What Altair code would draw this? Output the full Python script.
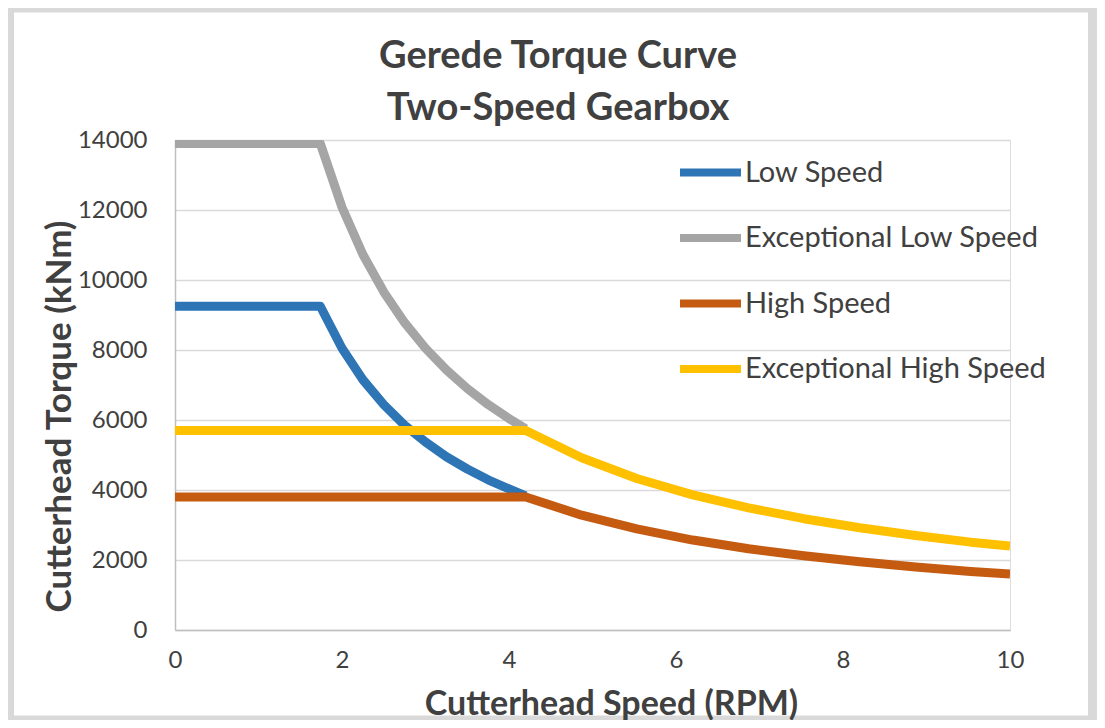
import altair as alt
import pandas as pd

TITLE_LINES = ["Gerede Torque Curve", "Two-Speed Gearbox"]
X_TITLE = "Cutterhead Speed (RPM)"
Y_TITLE = "Cutterhead Torque (kNm)"
SERIES = ["Low Speed", "Exceptional Low Speed", "High Speed", "Exceptional High Speed"]
COLORS = ["#2e75b6", "#a5a5a5", "#c55a11", "#ffc000"]
X_TICKS = [0, 2, 4, 6, 8, 10]
Y_TICKS = [0, 2000, 4000, 6000, 8000, 10000, 12000, 14000]

low_x = [0, 1.74, 2.0, 2.25, 2.5, 2.75, 3.0, 3.25, 3.5, 3.75, 4.0, 4.2]
low_y = [9250, 9250, 8050, 7150, 6440, 5850, 5370, 4950, 4600, 4290, 4030, 3830]
exlow_x = [0, 1.74, 2.0, 2.25, 2.5, 2.75, 3.0, 3.25, 3.5, 3.75, 4.0, 4.2]
exlow_y = [13900, 13900, 12080, 10730, 9660, 8780, 8050, 7430, 6900, 6440, 6040, 5750]
high_x = [0, 4.2, 4.87, 5.53, 6.2, 6.87, 7.53, 8.2, 8.87, 9.53, 10]
high_y = [3800, 3800, 3280, 2890, 2570, 2320, 2120, 1950, 1800, 1670, 1600]
exhigh_x = [0, 4.2, 4.87, 5.53, 6.2, 6.87, 7.53, 8.2, 8.87, 9.53, 10]
exhigh_y = [5700, 5700, 4920, 4330, 3860, 3490, 3180, 2920, 2700, 2510, 2400]

rows = []
for name, xs, ys in zip(SERIES, [low_x, exlow_x, high_x, exhigh_x], [low_y, exlow_y, high_y, exhigh_y]):
    for i, (xv, yv) in enumerate(zip(xs, ys)):
        rows.append({"series": name, "speed": xv, "torque": yv, "idx": i})
df = pd.DataFrame(rows)

FONT = "Lato"
TXT = "#404040"

frame = alt.Chart(pd.DataFrame({"k": [0]})).mark_rect(
    fillOpacity=0, stroke="#d9d9d9", strokeWidth=9
).encode(
    x=alt.value(-165.5), x2=alt.value(917.5), y=alt.value(-132), y2=alt.value(580)
)

lines = alt.Chart(df).mark_line(strokeWidth=9, strokeJoin="round", clip=True).encode(
    x=alt.X("speed:Q", scale=alt.Scale(domain=[0, 10], nice=False),
            axis=alt.Axis(values=X_TICKS, grid=False, ticks=False, tickSize=0,
                          labelFlush=False, zindex=1,
                          labelPadding=18, labelFontSize=24, labelFont=FONT, labelColor=TXT,
                          domainColor="#bfbfbf", domainWidth=1.5,
                          title=X_TITLE, titleFont=FONT, titleFontSize=34, titleFontWeight="bold",
                          titleColor=TXT, titleX=436, titleY=74, titleAlign="center",
                          titleBaseline="middle")),
    y=alt.Y("torque:Q", scale=alt.Scale(domain=[0, 14000], nice=False),
            axis=alt.Axis(values=Y_TICKS, format="d", grid=True, gridColor="#d9d9d9",
                          gridWidth=1.5, ticks=False, tickSize=0, labelPadding=28,
                          labelFontSize=24, labelFont=FONT, labelColor=TXT,
                          domainColor="#bfbfbf", domainWidth=1.5,
                          title=Y_TITLE, titleFont=FONT, titleFontSize=35, titleFontWeight="bold",
                          titleColor=TXT, titleX=-116, titleY=276, titleAngle=270,
                          titleAlign="center", titleBaseline="middle")),
    color=alt.Color("series:N", scale=alt.Scale(domain=SERIES, range=COLORS),
                    legend=alt.Legend(title=None, orient="none", legendX=501, legendY=-2,
                                      direction="vertical", symbolType="stroke",
                                      symbolStrokeWidth=8, symbolSize=3721,
                                      labelFontSize=29, labelFont=FONT, labelColor=TXT,
                                      labelOffset=0, rowPadding=14.5, padding=0, labelLimit=0)),
    order=alt.Order("idx:Q"),
)

t1 = alt.Chart(pd.DataFrame({"k": [0]})).mark_text(
    text=TITLE_LINES[0], font=FONT, fontSize=38, fontWeight="bold", color=TXT,
    align="center", baseline="alphabetic"
).encode(x=alt.value(383), y=alt.value(-72))

t2 = alt.Chart(pd.DataFrame({"k": [0]})).mark_text(
    text=TITLE_LINES[1], font=FONT, fontSize=38, fontWeight="bold", color=TXT,
    align="center", baseline="alphabetic"
).encode(x=alt.value(383), y=alt.value(-20))

chart = alt.layer(frame, lines, t1, t2).properties(
    width=835, height=490,
    autosize=alt.AutoSizeParams(type="none"),
    padding={"left": 167, "top": 132, "right": 87, "bottom": 90},
).configure_view(stroke=None).configure(background="white")

chart.save("out.html", embed_options={"renderer": "svg", "actions": False})
